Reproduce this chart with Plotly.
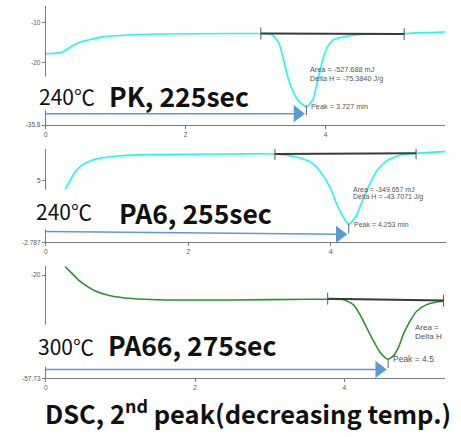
import plotly.graph_objects as go

W, H = 461, 437

# ---------------- data ----------------
# Panel 1: PK
t_pk = [0, 0.23, 0.37, 0.51, 0.66, 0.80, 0.94, 1.27, 1.65, 2.65, 3.08, 3.22, 3.33, 3.40, 3.47, 3.54,
        3.62, 3.727, 3.82, 3.89, 3.96, 4.03, 4.11, 4.26, 4.46, 4.68, 5.03, 5.25, 5.71]
v_pk = [-17.8, -17.4, -15.9, -14.7, -14.1, -13.6, -13.3, -13.0, -12.8, -12.7, -12.7, -12.8, -15.0, -19.3,
        -24.3, -27.5, -29.8, -31.1, -29.3, -24.3, -19.3, -16.0, -14.3, -13.5, -13.0, -12.8, -12.75, -12.6, -12.3]
base_pk_t = [3.075, 5.125]
base_pk_v = [-12.68, -12.83]
peak_pk = 3.727
peak_pk_v = -31.1

# Panel 2: PA6
t_pa6 = [0.27, 0.34, 0.41, 0.50, 0.64, 0.78, 1.02, 1.48, 2.60, 3.22, 3.53, 3.72, 3.86, 4.00, 4.09, 4.19,
         4.253, 4.35, 4.44, 4.54, 4.65, 4.79, 4.98, 5.21, 5.61]
v_pa6 = [3.87, 5.04, 6.09, 6.92, 7.55, 7.89, 8.14, 8.30, 8.39, 8.39, 7.98, 7.35, 6.09, 3.99, 1.90, 0.23,
         -0.53, 0.44, 2.32, 4.41, 6.29, 7.55, 8.27, 8.48, 8.68]
base_pa6_t = [3.217, 5.199]
base_pa6_v = [8.39, 8.48]
peak_pa6 = 4.253
peak_pa6_v = -0.53

# Panel 3: PA66
t_pa66 = [0.257, 0.347, 0.436, 0.524, 0.657, 0.836, 1.057, 1.324, 1.636, 2.48, 3.55, 3.78, 3.99, 4.12,
          4.21, 4.30, 4.39, 4.48, 4.547, 4.587, 4.657, 4.724, 4.791, 4.88, 4.969, 5.103, 5.236, 5.33]
v_pa66 = [-16.84, -19.27, -21.70, -23.52, -25.69, -27.36, -28.34, -28.81, -29.07, -29.07, -28.8, -28.8,
          -28.96, -30.77, -34.40, -39.22, -44.05, -48.29, -50.11, -50.72, -49.49, -46.48, -41.65,
          -36.79, -33.17, -30.77, -29.79, -29.54]
base_pa66_t = [3.777, 5.33]
base_pa66_v = [-28.6, -29.3]
peak_pa66 = 4.587
peak_pa66_v = -50.72

x_ticks = [0, 2, 4]
y_ticks = [[-35.8, -20, -10], [-2.787, 5], [-57.73, -20]]
y_tick_text = [["-35.8", "-20", "-10"], ["-2.787", "5"], ["-57.73", "-20"]]

temps = ["240℃", "240℃", "300℃"]
names = ["PK, 225sec", "PA6, 255sec", "PA66, 275sec"]
area_text = [["Area = -527.688 mJ", "Delta H = -75.3840 J/g"],
             ["Area = -349.657 mJ", "Delta H = -43.7071 J/g"],
             ["Area =", "Delta H"]]
peak_text = ["Peak = 3.727 min", "Peak = 4.253 min", "Peak = 4.5"]
title = "DSC, 2<sup>nd</sup> peak(decreasing temp.)"

# ---------------- layout geometry (pixels) ----------------
def px(x):
    return x / W

def py(y):
    return 1 - y / H

panels = [
    dict(x0=44, x1=445, y0=6, y1=126, xr=[0, 5.71], yr=[-35.8, -5.74]),
    dict(x0=44, x1=446, y0=150, y1=244, xr=[0, 5.62], yr=[-2.787, 9.02]),
    dict(x0=44, x1=445, y0=268, y1=381, xr=[0, 5.35], yr=[-57.73, -16.7]),
]

fig = go.Figure()

curves = [(t_pk, v_pk, "#22f5f5"), (t_pa6, v_pa6, "#22f5f5"), (t_pa66, v_pa66, "#2f8f2f")]
bases = [(base_pk_t, base_pk_v), (base_pa6_t, base_pa6_v), (base_pa66_t, base_pa66_v)]
peaks = [(peak_pk, peak_pk_v), (peak_pa6, peak_pa6_v), (peak_pa66, peak_pa66_v)]
arrow_y = [[-32.9, -32.9], [-1.41, -1.78], [-54.46, -54.46]]

layout = dict(width=W, height=H, margin=dict(l=0, r=0, t=0, b=0),
              paper_bgcolor="white", plot_bgcolor="white", showlegend=False)
shapes = []
annotations = []

for i, p in enumerate(panels):
    sfx = "" if i == 0 else str(i + 1)
    xa, ya = "x" + sfx, "y" + sfx
    t, v, col = curves[i]
    fig.add_trace(go.Scatter(x=t, y=v, mode="lines", line=dict(color=col, width=1.6, shape="spline", smoothing=0.6),
                             xaxis=xa, yaxis=ya, hoverinfo="skip"))
    bt, bv = bases[i]
    fig.add_trace(go.Scatter(x=bt, y=bv, mode="lines", line=dict(color="#3a3a3a", width=2),
                             xaxis=xa, yaxis=ya, hoverinfo="skip"))
    sx = (p["x1"] - p["x0"]) / (p["xr"][1] - p["xr"][0])
    sy = (p["y1"] - p["y0"]) / (p["yr"][1] - p["yr"][0])
    for k in range(2):
        shapes.append(dict(type="line", xref=xa, yref=ya, x0=bt[k], x1=bt[k],
                           y0=bv[k] - 6 / sy, y1=bv[k] + 6 / sy, line=dict(color="#555", width=1)))
    pk, pv = peaks[i]
    shapes.append(dict(type="line", xref=xa, yref=ya, x0=pk, x1=pk, y0=pv - 9 / sy, y1=pv + 1 / sy,
                       line=dict(color="#666", width=1)))
    tip = pk - 9 / sx
    ay = arrow_y[i]
    fig.add_trace(go.Scatter(x=[0, tip], y=ay, mode="lines", line=dict(color="#5b9bd5", width=1.5),
                             xaxis=xa, yaxis=ya, hoverinfo="skip"))
    fig.add_trace(go.Scatter(x=[tip], y=[ay[1]], mode="markers",
                             marker=dict(symbol="triangle-right", size=15, color="#5b9bd5"),
                             xaxis=xa, yaxis=ya, hoverinfo="skip"))
    axis_common = dict(showgrid=False, zeroline=False, showline=True, linecolor="#7a7a7a", linewidth=1,
                       ticks="outside", ticklen=3, tickcolor="#7a7a7a",
                       tickfont=dict(family="Liberation Sans", size=6.5, color="#555"))
    layout["xaxis" + sfx] = dict(axis_common, domain=[px(p["x0"]), px(p["x1"])], range=p["xr"],
                                 tickvals=x_ticks, anchor=ya, fixedrange=True)
    layout["yaxis" + sfx] = dict(axis_common, domain=[py(p["y1"]), py(p["y0"])], range=p["yr"],
                                 tickvals=y_ticks[i], ticktext=y_tick_text[i], anchor=xa, fixedrange=True)

    if i == 0:
        ax0, ay0, dy, fs = 3.744, -21.78, 9, 7.3
    elif i == 1:
        ax0, ay0, dy, fs = 4.28, 3.87, 7.5, 7.0
    else:
        ax0, ay0, dy, fs = 4.92, -39.22, 8.5, 8.0
    for k, txt in enumerate(area_text[i]):
        annotations.append(dict(x=ax0, y=ay0 - k * dy / sy, xref=xa, yref=ya, text=txt, showarrow=False,
                                xanchor="left", yanchor="middle",
                                font=dict(family="Liberation Sans", size=fs, color="#555")))
    annotations.append(dict(x=pk + 3 / sx, y=pv, xref=xa, yref=ya, text=peak_text[i], showarrow=False,
                            xanchor="left", yanchor="middle",
                            font=dict(family="Liberation Sans", size=fs if i < 2 else 8.5, color="#555")))

boxes = [(33, 77, 255, 111), (30, 191, 285, 231), (30, 327, 290, 369)]
temp_pos = [(35, 97), (32, 212), (34, 348)]
name_pos = [(105, 96), (116, 214), (104, 347)]
for i in range(3):
    x0, y0, x1, y1 = boxes[i]
    shapes.append(dict(type="rect", xref="paper", yref="paper", x0=px(x0), x1=px(x1), y0=py(y1), y1=py(y0),
                       fillcolor="white", line=dict(width=0), layer="above"))
    annotations.append(dict(x=px(temp_pos[i][0]), y=py(temp_pos[i][1]), xref="paper", yref="paper",
                            text=temps[i], showarrow=False, xanchor="left", yanchor="middle",
                            font=dict(family="Noto Sans CJK KR", size=21, color="#111")))
    annotations.append(dict(x=px(name_pos[i][0]), y=py(name_pos[i][1]), xref="paper", yref="paper",
                            text="<b>" + names[i] + "</b>", showarrow=False, xanchor="left", yanchor="middle",
                            font=dict(family="Noto Sans CJK KR", size=26.5, color="#111")))

annotations.append(dict(x=px(247), y=py(414), xref="paper", yref="paper", text="<b>" + title + "</b>",
                        showarrow=False, xanchor="center", yanchor="middle",
                        font=dict(family="Noto Sans CJK KR", size=25.5, color="#111")))

layout["shapes"] = shapes
layout["annotations"] = annotations
fig.update_layout(**layout)
fig.write_html("out.html", config={"displayModeBar": False, "staticPlot": True},
               post_script="document.body.style.margin='0';document.body.style.overflow='hidden';")
